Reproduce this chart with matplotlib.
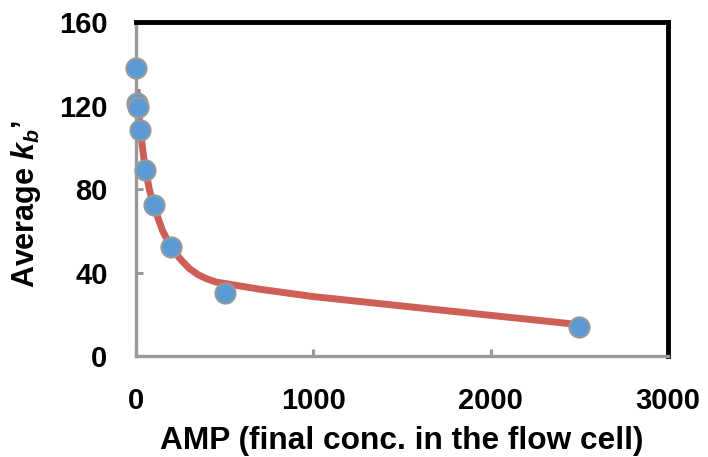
import matplotlib
matplotlib.use("Agg")
import matplotlib.pyplot as plt

plt.rcParams['font.family'] = ['Liberation Sans', 'DejaVu Sans']
plt.rcParams['mathtext.fontset'] = 'custom'
plt.rcParams['mathtext.rm'] = 'Liberation Sans:bold'
plt.rcParams['mathtext.it'] = 'Liberation Sans:bold:italic'
plt.rcParams['mathtext.bf'] = 'Liberation Sans:bold'

# measured points
amp = [0, 5, 10, 25, 50, 100, 200, 500, 2500]
kb = [138, 121.4, 119.4, 108.4, 89.3, 72.5, 52.3, 30.2, 14.1]

# fitted curve
fit_x = [5, 10, 15, 25, 50, 75, 100, 150, 200, 250, 300, 350, 400, 450, 500,
         700, 1000, 1500, 2000, 2450]
fit_y = [128, 123, 117, 108, 91, 80, 72, 60, 52, 46.5, 42, 39, 37, 35.5, 34.8,
         32, 28.5, 24, 19.5, 15.5]

fig = plt.figure(figsize=(7.08, 4.57), dpi=100)
ax = fig.add_axes([0.1921, 0.221, 0.7514, 0.7298])

ax.plot(fit_x, fit_y, color='#CD5F57', lw=5, solid_capstyle='butt', zorder=2)
ax.plot(amp, kb, 'o', ms=14.5, mfc='#5B9BD5', mec='#999999', mew=1.5,
        zorder=3, clip_on=False)

ax.set_xlim(0, 3000)
ax.set_ylim(0, 160)
ax.set_xticks([0, 1000, 2000, 3000])
ax.set_yticks([0, 40, 80, 120, 160])

for s in ['left', 'bottom']:
    ax.spines[s].set_color('#999999')
    ax.spines[s].set_linewidth(2.4)
for s in ['top', 'right']:
    ax.spines[s].set_color('black')
    ax.spines[s].set_linewidth(3.5)

ax.tick_params(direction='in', length=5, width=2.2, color='#999999',
               labelsize=21)
ax.tick_params(axis='y', pad=20.5)
ax.tick_params(axis='x', pad=22)
for lab in ax.get_xticklabels() + ax.get_yticklabels():
    lab.set_fontweight('bold')

ax.set_xlabel('AMP (final conc. in the flow cell)', fontsize=22.75,
              fontweight='bold')
ax.xaxis.set_label_coords(0.5, -0.21)
ax.set_ylabel("Average $k_{b}$\u2019", fontsize=22, fontweight='bold')
ax.yaxis.set_label_coords(-0.174, 0.457)

plt.savefig('out.png', dpi=100)
